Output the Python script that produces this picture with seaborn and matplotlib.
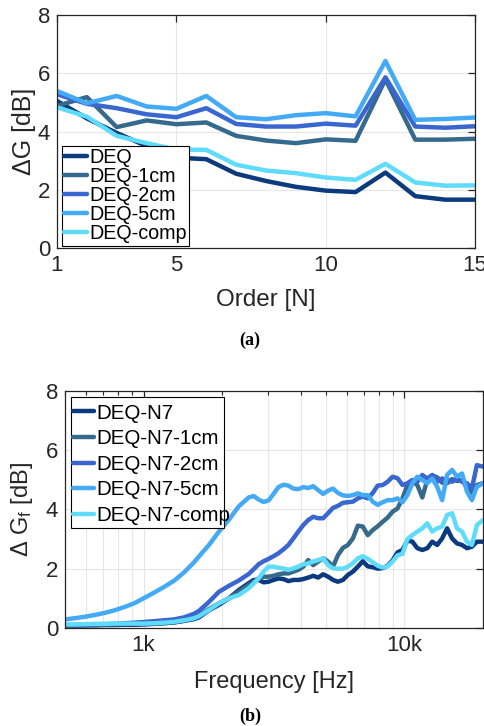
import numpy as np
import pandas as pd
import matplotlib
matplotlib.use("Agg")
import matplotlib.pyplot as plt
from matplotlib.patches import Rectangle
import seaborn as sns
from matplotlib.ticker import FixedLocator, FixedFormatter, NullFormatter, LogLocator

sns.set_theme(style="white")
plt.rcParams['font.family'] = ['Liberation Sans', 'DejaVu Sans']
plt.rcParams['mathtext.fontset'] = 'custom'
plt.rcParams['mathtext.rm'] = 'Liberation Sans'
plt.rcParams['mathtext.it'] = 'Liberation Sans:italic'

# ---------------- data (a) ----------------
order = list(range(1, 16))
deq = [5.05, 4.45, 3.95, 3.5, 3.1, 3.05, 2.55, 2.3, 2.1, 1.97, 1.92, 2.59, 1.78, 1.66, 1.66]
deq_1cm = [4.88, 5.18, 4.15, 4.38, 4.25, 4.31, 3.85, 3.69, 3.6, 3.73, 3.68, 5.79, 3.72, 3.72, 3.75]
deq_2cm = [5.28, 4.95, 4.8, 4.59, 4.49, 4.8, 4.26, 4.17, 4.17, 4.27, 4.2, 5.86, 4.17, 4.13, 4.18]
deq_5cm = [5.39, 4.97, 5.22, 4.86, 4.78, 5.22, 4.49, 4.42, 4.56, 4.63, 4.52, 6.42, 4.4, 4.43, 4.48]
deq_comp = [4.83, 4.51, 3.85, 3.6, 3.38, 3.37, 2.86, 2.66, 2.57, 2.42, 2.34, 2.89, 2.25, 2.14, 2.15]
labels_a = ["DEQ", "DEQ-1cm", "DEQ-2cm", "DEQ-5cm", "DEQ-comp"]

# ---------------- data (b) ----------------
freq = [500, 546, 597, 651, 711, 776, 847, 924, 1000, 1101, 1202, 1312, 1432, 1563, 1633,
        1782, 1945, 2123, 2317, 2529, 2643, 2761, 2885, 3014, 3149, 3289, 3437, 3591, 3751,
        3919, 4095, 4278, 4469, 4669, 4878, 5096, 5324, 5563, 5812, 6072, 6343, 6627, 6924,
        7233, 7557, 7895, 8249, 8617, 9003, 9406, 9827, 10266, 10725, 11205, 11707, 12231,
        12779, 13350, 13947, 14571, 15223, 15904, 16616, 17359, 18135, 18947, 20000]
n7 = [0.08, 0.08, 0.09, 0.09, 0.10, 0.10, 0.11, 0.11, 0.12, 0.14, 0.16, 0.19, 0.24, 0.30, 0.36,
      0.60, 0.78, 1.0, 1.28, 1.51, 1.62, 1.62, 1.54, 1.56, 1.62, 1.67, 1.65, 1.58, 1.62,
      1.62, 1.65, 1.70, 1.76, 1.70, 1.81, 1.73, 1.62, 1.56, 1.62, 1.79, 1.90, 2.07, 2.25,
      2.08, 2.05, 2.0, 2.02, 2.10, 2.28, 2.55, 2.63, 2.95, 2.91, 2.69, 2.63, 2.69,
      2.91, 2.80, 3.02, 3.36, 3.02, 2.85, 2.80, 2.69, 2.74, 2.91, 2.91]
n7_1cm = [0.08, 0.08, 0.09, 0.10, 0.11, 0.12, 0.13, 0.14, 0.15, 0.16, 0.17, 0.19, 0.25, 0.33, 0.42,
          0.64, 0.83, 1.0, 1.22, 1.45, 1.56, 1.67, 1.73, 1.73, 1.76, 1.81, 1.84, 1.84, 1.90,
          1.96, 2.07, 2.29, 2.12, 2.24, 2.35, 2.24, 2.07, 2.46, 2.70, 2.80, 3.02, 3.45, 3.42,
          3.13, 3.30, 3.43, 3.58, 3.72, 3.92, 4.03, 4.37, 4.82, 4.93, 4.82, 4.40, 5.0,
          5.14, 5.08, 4.90, 4.88, 5.02, 4.96, 4.97, 4.75, 4.56, 4.82, 4.88]
n7_2cm = [0.10, 0.10, 0.11, 0.12, 0.13, 0.14, 0.16, 0.18, 0.20, 0.23, 0.26, 0.29, 0.36, 0.48, 0.58,
          0.88, 1.22, 1.42, 1.60, 1.82, 1.98, 2.15, 2.25, 2.33, 2.42, 2.52, 2.65, 2.80, 3.02,
          3.25, 3.47, 3.64, 3.75, 3.70, 3.70, 3.87, 4.05, 4.12, 4.22, 4.24, 4.26, 4.37, 4.43,
          4.37, 4.55, 4.80, 4.82, 4.93, 5.10, 5.05, 4.82, 4.88, 4.99, 4.93, 5.16, 5.04,
          5.16, 4.93, 5.04, 4.99, 4.93, 5.04, 4.93, 4.88, 4.71, 5.49, 5.44]
n7_5cm = [0.29, 0.33, 0.38, 0.44, 0.51, 0.60, 0.71, 0.84, 1.0, 1.2, 1.39, 1.6, 1.88, 2.22, 2.42,
          2.8, 3.25, 3.65, 4.10, 4.40, 4.45, 4.33, 4.25, 4.30, 4.52, 4.75, 4.83, 4.80, 4.70,
          4.68, 4.75, 4.72, 4.78, 4.65, 4.52, 4.63, 4.70, 4.55, 4.47, 4.45, 4.48, 4.54, 4.48,
          4.48, 4.26, 4.15, 4.24, 4.31, 4.31, 4.37, 4.24, 4.48, 4.88, 5.10, 4.99, 4.88,
          5.04, 4.76, 4.31, 5.16, 5.33, 5.10, 5.21, 4.60, 4.31, 4.76, 4.88]
n7_comp = [0.12, 0.12, 0.13, 0.14, 0.14, 0.15, 0.15, 0.15, 0.15, 0.16, 0.18, 0.21, 0.26, 0.33, 0.40,
           0.61, 0.83, 1.0, 1.11, 1.34, 1.50, 1.67, 1.90, 2.07, 2.07, 2.03, 2.01, 1.96, 2.01,
           2.07, 2.15, 2.18, 2.24, 2.29, 2.35, 2.12, 2.01, 2.0, 2.0, 2.07, 2.18, 2.35, 2.42,
           2.33, 2.22, 2.10, 2.04, 2.08, 2.24, 2.45, 2.5, 3.0, 3.13, 3.25, 3.36, 3.53,
           3.25, 3.36, 3.42, 3.81, 3.87, 3.36, 3.25, 2.91, 2.80, 3.47, 3.64]
labels_b = ["DEQ-N7", "DEQ-N7-1cm", "DEQ-N7-2cm", "DEQ-N7-5cm", "DEQ-N7-comp"]

colors = ["#0b3a7e", "#366a8c", "#3a66cf", "#44aaf5", "#5fdbfc"]

W, H = 484, 726
fig = plt.figure(figsize=(W / 100, H / 100), dpi=100)
ax1 = fig.add_axes([57 / W, 1 - 248 / H, 418 / W, 233 / H])
ax2 = fig.add_axes([65 / W, 1 - 628 / H, 418 / W, 237.3 / H])

txt_col = "#262626"


def style(ax):
    for s in ax.spines.values():
        s.set_color(txt_col)
        s.set_linewidth(0.9)
        s.set_visible(True)
    ax.tick_params(which="both", direction="in", top=True, right=True,
                   colors=txt_col, labelcolor=txt_col, labelsize=16, pad=5)
    ax.tick_params(which="major", length=5, width=0.9)
    ax.tick_params(which="minor", length=3, width=0.8)
    ax.set_axisbelow(True)


# ---------- panel (a) ----------
df_a = pd.DataFrame({"N": order * 5,
                     "val": deq + deq_1cm + deq_2cm + deq_5cm + deq_comp,
                     "series": sum([[l] * len(order) for l in labels_a], [])})
for lab, c in zip(labels_a, colors):
    sub = df_a[df_a.series == lab]
    sns.lineplot(data=sub, x="N", y="val", ax=ax1, color=c, lw=3.2, label=lab)
style(ax1)
ax1.set_xlim(1, 15)
ax1.set_ylim(0, 8)
ax1.set_xticks([1, 5, 10, 15])
ax1.set_yticks([0, 2, 4, 6, 8])
ax1.grid(True, which="major", color="#e6e6e6", lw=0.8)
ax1.set_xlabel("Order [N]", fontsize=17.5, color=txt_col)
ax1.set_ylabel("ΔG [dB]", fontsize=18, color=txt_col)
ax1.xaxis.set_label_coords(0.5, -0.175)
ax1.yaxis.set_label_coords(-0.05, 0.5)
leg1 = ax1.legend(loc="lower left", bbox_to_anchor=(0.011, 0.01), borderaxespad=0,
                  fontsize=14.2, frameon=True, fancybox=False, edgecolor="black",
                  framealpha=1, handlelength=1.15, handletextpad=0.15, labelspacing=0.0,
                  borderpad=0.12)
leg1.get_frame().set_linewidth(0.8)
for t in leg1.get_texts():
    t.set_color("black")

# ---------- panel (b) ----------
nf = len(freq)
df_b = pd.DataFrame({"f": freq * 5,
                     "val": n7 + n7_1cm + n7_2cm + n7_5cm + n7_comp,
                     "series": sum([[l] * nf for l in labels_b], [])})
ax2.set_xscale("log")
for lab, c in zip(labels_b, colors):
    sub = df_b[df_b.series == lab]
    sns.lineplot(data=sub, x="f", y="val", ax=ax2, color=c, lw=3.2, label=lab)
style(ax2)
ax2.set_xlim(500, 20000)
ax2.set_ylim(0, 8)
ax2.xaxis.set_major_locator(FixedLocator([1000, 10000]))
ax2.xaxis.set_major_formatter(FixedFormatter(["1k", "10k"]))
ax2.xaxis.set_minor_locator(LogLocator(base=10, subs=np.arange(2, 10), numticks=20))
ax2.xaxis.set_minor_formatter(NullFormatter())
ax2.set_yticks([0, 2, 4, 6, 8])
ax2.grid(True, which="both", axis="x", color="#e6e6e6", lw=0.8)
ax2.grid(True, which="major", axis="y", color="#e6e6e6", lw=0.8)
ax2.set_xlabel("Frequency [Hz]", fontsize=17, color=txt_col)
ax2.set_ylabel(r"Δ G$_{\mathrm{f}}$ [dB]", fontsize=17, color=txt_col)
ax2.xaxis.set_label_coords(0.5, -0.18)
ax2.yaxis.set_label_coords(-0.072, 0.5)
# legend box (MATLAB-style: the longest label spills past the frame)
ax2.add_patch(Rectangle(((71 - 65) / 418, (628 - 527.7) / 237.3), (224 - 71) / 418,
                        (527.7 - 396.7) / 237.3, transform=ax2.transAxes,
                        facecolor="white", edgecolor="black", lw=0.8, zorder=4,
                        clip_on=False))
leg2 = ax2.legend(loc="upper left", bbox_to_anchor=((69 - 65) / 418, (628 - 399.5) / 237.3),
                  borderaxespad=0, fontsize=14.8, frameon=False,
                  handlelength=1.0, handletextpad=0.15, labelspacing=0.32, borderpad=0.2)
leg2.set_zorder(5)
for t in leg2.get_texts():
    t.set_color("black")

fig.text(250 / W, 1 - 340.7 / H, "(a)", ha="center", va="center", fontsize=13,
         fontweight="bold", family=["Liberation Serif", "DejaVu Serif"], color="black")
fig.text(250 / W, 1 - 716 / H, "(b)", ha="center", va="center", fontsize=13,
         fontweight="bold", family=["Liberation Serif", "DejaVu Serif"], color="black")

fig.savefig("out.png", dpi=100)
